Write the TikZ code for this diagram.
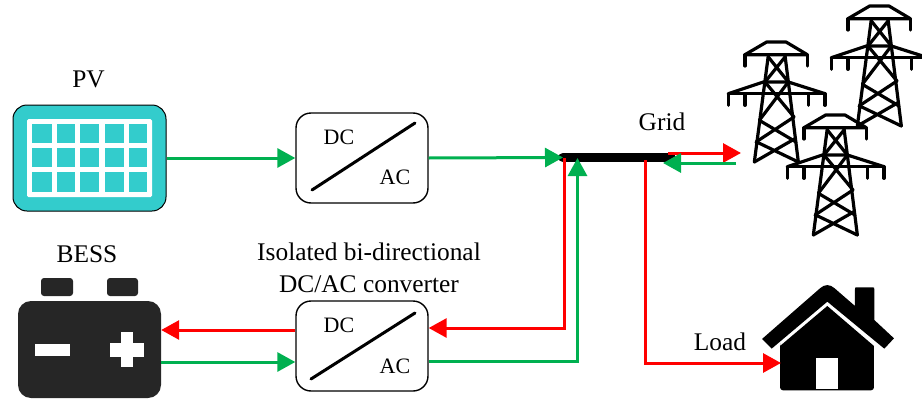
\documentclass[tikz,border=0pt]{standalone}
\usepackage{fontspec}
\setmainfont{Liberation Serif}
\usetikzlibrary{arrows.meta}
\definecolor{gr}{HTML}{00B050}
\definecolor{rd}{HTML}{FF0000}
\definecolor{pvc}{HTML}{33CCCC}
\definecolor{bat}{HTML}{262626}
\tikzset{
  lbl/.style={inner sep=0pt,font=\fontsize{25.4}{30}\selectfont,align=center},
  slbl/.style={inner sep=0pt,font=\fontsize{22}{26}\selectfont},
  conv/.style={draw=black,line width=1.4pt,rounded corners=15pt,minimum width=132pt,minimum height=90pt,inner sep=0pt,fill=white},
  flow/.style={line width=3pt,-{Triangle[length=18pt,width=19pt]}},
  flowg/.style={flow,draw=gr,color=gr},
  flowr/.style={flow,draw=rd,color=rd},
  pvbox/.style={draw=black,line width=1pt,fill=pvc,rounded corners=14pt,minimum width=153pt,minimum height=106pt,inner sep=0pt},
  batbody/.style={fill=bat,rounded corners=13pt,minimum width=143pt,minimum height=97pt,inner sep=0pt},
  tl/.style={line width=3.2pt,line cap=round,line join=round,draw=black},
  pics/tower/.style={code={
    \begin{scope}[x=0.3333pt,y=-0.3333pt]
    \draw[tl] (-28,0)--(30,0)--(94,38)--(-93,38)--cycle;
    \draw[tl] (-93,38)--(-93,72) (94,38)--(94,72);
    \draw[tl] (-143,155)--(147,155);
    \draw[tl] (-143,155)--(-38,120)--(37,120)--(147,155);
    \draw[tl] (-143,155)--(-143,190) (-93,155)--(-93,190) (97,155)--(97,190) (147,155)--(147,190);
    \draw[tl] (-23,40)--(-65,360) (27,40)--(67,360);
    \draw[tl] (-23,45)--(37,120) (27,45)--(-33,120);
    \draw[tl] (-33,120)--(54,225) (37,120)--(-50,235);
    \draw[tl] (-50,235)--(60,300) (54,225)--(-60,300);
    \draw[tl] (-58,300)--(67,360) (57,290)--(-65,360);
    \end{scope}
  }},
}
\begin{document}
\begin{tikzpicture}[x=1pt,y=-1pt]
\useasboundingbox (0,0) rectangle (922,399);

% PV
\node[pvbox] (pv) at (89.5,158) {};
\fill[white,rounded corners=1.5pt] (27,119) rectangle (152,197);
\foreach \xa/\xb in {32/52,57/75,80/99,105/124,129/147}
  \foreach \ya/\yb in {124/143,148/167,172/192}
    \fill[pvc] (\xa,\ya) rectangle (\xb,\yb);
\node[lbl] (pvl) at (88.5,79) {PV};

% Battery
\node[batbody] (bess) at (89.5,349.5) {};
\fill[bat,rounded corners=3pt] (41,278) rectangle (73,296);
\fill[bat,rounded corners=3pt] (107,278) rectangle (138,296);
\fill[white] (35,344) rectangle (70,356);
\fill[white] (110,343) rectangle (144,357);
\fill[white] (121,332) rectangle (133,367);
\node[lbl] (bessl) at (87,254) {BESS};

% Converters
\node[conv] (c1) at (362,158) {};
\draw[line width=3pt,line cap=round] (312,190)--(415,123);
\node[slbl] (c1dc) at (339,137) {DC};
\node[slbl] (c1ac) at (395,177) {AC};

\node[conv] (c2) at (362,346) {};
\draw[line width=3pt,line cap=round] (311,379)--(415,313);
\node[slbl] (c2dc) at (339,325) {DC};
\node[slbl] (c2ac) at (395,366) {AC};
\node[lbl] (c2l) at (369,268) {Isolated bi-directional\\[2pt]DC/AC converter};

% Bus
\coordinate (busl) at (563,157.5);
\coordinate (busr) at (671,157.5);
\draw[line width=9.5pt,line cap=round] (busl)--(busr);
\node[lbl] (gridl) at (662,122) {Grid};
\node[lbl] (loadl) at (720,342) {Load};

% Towers
\pic at (776,42) {tower};
\pic at (879,6) {tower};
\pic at (835,115) {tower};
\coordinate (gridin) at (741,153);
\coordinate (gridout) at (736,163);

% House
\coordinate (house) at (781,363);
\begin{scope}[shift={(740,270)},x=0.3333pt,y=-0.3333pt]
\fill[black] (120,228)--(262,108)--(402,228) {[rounded corners=3pt] --(402,361)--(120,361)--(120,228)} --cycle;
\fill[black] (66,207) -- (240,55) .. controls (254,42) and (270,42) .. (284,55) -- (345,108) -- (345,58) .. controls (345,52) .. (351,52) -- (397,52) .. controls (403,52) .. (403,58) -- (403,150) -- (462,205) -- (433,236) -- (262,95) -- (95,236) -- cycle;
\fill[white] (228,265) rectangle (294,358);
\end{scope}

% Connectors
\draw[flowg] (pv.east) -- (c1.west);
\draw[flowg] (c1.east) -- (busl);
\draw[flowr] (668,153) -- (gridin);
\draw[flowg] (gridout) -- (663,163);
\coordinate (c2r) at (c2.east |- 0,328);
\coordinate (c2g) at (c2.east |- 0,361);
\coordinate (c2rw) at (c2.west |- 0,330);
\coordinate (c2gw) at (c2.west |- 0,362);
\coordinate (br) at (bess.east |- 0,330);
\coordinate (bg) at (bess.east |- 0,362);
\draw[flowr] (c2rw) -- (br);
\draw[flowg] (bg) -- (c2gw);
\draw[flowr] (564.5,158) -- (564.5,328) -- (c2r);
\draw[flowg] (c2g) -- (577.5,361) -- (577.5,158);
\draw[flowr] (645.5,160) -- (645.5,363) -- (house);
\end{tikzpicture}
\end{document}
